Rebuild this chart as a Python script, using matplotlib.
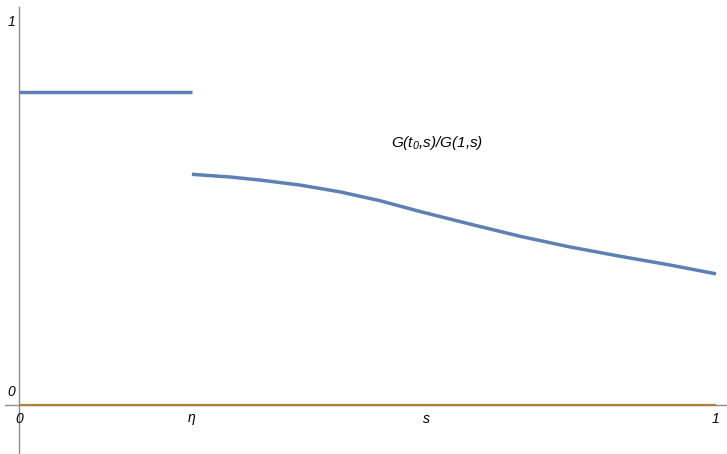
import matplotlib
matplotlib.use('Agg')
import matplotlib.pyplot as plt

plt.rcParams['font.family'] = ['Liberation Sans', 'DejaVu Sans']
plt.rcParams['mathtext.fontset'] = 'custom'
plt.rcParams['mathtext.it'] = 'Liberation Sans:italic'
plt.rcParams['mathtext.rm'] = 'Liberation Sans:italic'

# values
eta = 0.248
upper_x = [0.0, eta]
upper_y = [0.817, 0.817]
curve_x = [0.248, 0.303, 0.346, 0.403, 0.461, 0.518, 0.575, 0.647, 0.719, 0.791, 0.862, 0.934, 1.0]
curve_y = [0.602, 0.595, 0.587, 0.574, 0.556, 0.533, 0.505, 0.472, 0.440, 0.412, 0.388, 0.365, 0.342]
zero_x = [0.0, 1.0]
zero_y = [0.0, 0.0]

x_tick_pos = [0.0, eta, 0.585, 1.0]
x_tick_labels = ['0', r'$\eta$', 's', '1']
y_tick_pos = [0.0, 1.0]
y_tick_labels = ['0', '1']

blue = '#5E81B5'
brown = '#A9843F'
axis_grey = '#8c8c8c'

fig = plt.figure(figsize=(7.27, 4.54), dpi=100)
ax = fig.add_axes([0, 0, 1, 1])
ax.set_xlim(-0.0273, 1.0158)
ax.set_ylim(-0.1288, 1.0575)

for side in ['top', 'right']:
    ax.spines[side].set_visible(False)
ax.spines['left'].set_position(('data', 0))
ax.spines['bottom'].set_position(('data', 0))
ax.spines['left'].set_bounds(-0.1288, 1.039)
ax.spines['bottom'].set_bounds(-0.0201, 1.0158)
for side in ['left', 'bottom']:
    ax.spines[side].set_color(axis_grey)
    ax.spines[side].set_linewidth(1.0)
ax.set_xticks([])
ax.set_yticks([])

ax.plot(zero_x, zero_y, color=brown, lw=1.6, solid_capstyle='butt', zorder=3)
ax.plot(upper_x, upper_y, color=blue, lw=2.5, solid_capstyle='butt', zorder=4)
ax.plot(curve_x, curve_y, color=blue, lw=2.5, solid_capstyle='butt', zorder=4)

for xp, lab in zip(x_tick_pos, x_tick_labels):
    ax.text(xp, -0.018, lab, ha='center', va='top', fontsize=10, style='italic')
for yp, lab in zip(y_tick_pos, y_tick_labels):
    ax.text(-0.005, yp + (0.032 if yp == 0 else 0), lab, ha='right', va='center',
            fontsize=10, style='italic')

ax.text(0.6, 0.684, r'$G(t_0{,}s)/G(1{,}s)$', ha='center', va='center', fontsize=11)

fig.savefig('out.png', dpi=100)
